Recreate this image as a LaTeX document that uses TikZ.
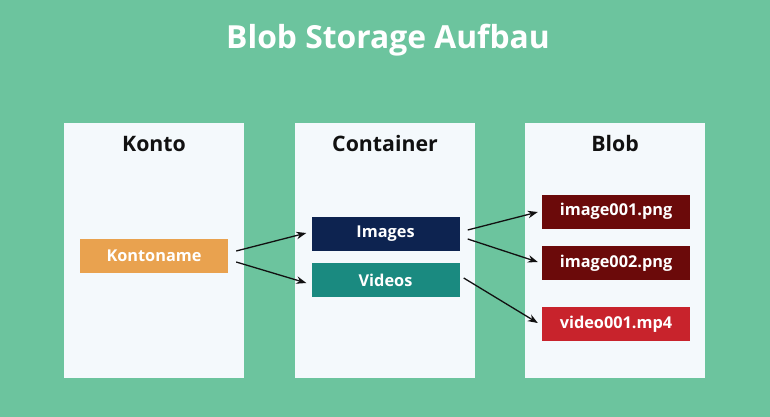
\documentclass[tikz,border=0pt]{standalone}
\usepackage{fontspec}
\setmainfont{Open Sans}
\usetikzlibrary{arrows.meta}
\definecolor{bggreen}{HTML}{6CC49E}
\definecolor{panelc}{HTML}{F4F9FC}
\definecolor{kontoc}{HTML}{E9A24F}
\definecolor{imgc}{HTML}{0D2350}
\definecolor{vidc}{HTML}{1A8A80}
\definecolor{filec}{HTML}{6B0A0A}
\definecolor{vfilec}{HTML}{C8232C}
\definecolor{inkc}{HTML}{111111}
\tikzset{
  panel/.style={fill=panelc, draw=none, minimum width=180pt, minimum height=255pt, inner sep=0pt},
  heading/.style={font=\bfseries\fontsize{21.3}{26}\selectfont, text=inkc, inner sep=0pt},
  itembox/.style={draw=none, minimum width=148pt, minimum height=34pt, inner sep=0pt, text=white, font=\bfseries\fontsize{16.3}{19}\selectfont},
  arr/.style={draw=inkc, line width=1.3pt, -{Stealth[length=10pt,width=7.5pt]}}
}
\begin{document}
\begin{tikzpicture}[x=1pt,y=-1pt]
\fill[bggreen] (0,0) rectangle (770,417);
\useasboundingbox (0,0) rectangle (770,417);
\node[font=\bfseries\fontsize{31.8}{38}\selectfont, text=white, inner sep=0pt] (title) at (388,40) {Blob Storage Aufbau};
\node[panel] (p1) at (154,250.5) {};
\node[panel] (p2) at (385,250.5) {};
\node[panel] (p3) at (615,250.5) {};
\node[heading] (h1) at (154,144) {Konto};
\node[heading] (h2) at (385,144) {Container};
\node[heading] (h3) at (615,144) {Blob};
\node[itembox, fill=kontoc] (konto) at (154,256) {Kontoname};
\node[itembox, fill=imgc] (img) at (385.5,234) {Images};
\node[itembox, fill=vidc] (vid) at (385.5,280) {Videos};
\node[itembox, fill=filec] (f1) at (616,211.5) {image001.png};
\node[itembox, fill=filec] (f2) at (616,263) {image002.png};
\node[itembox, fill=vfilec] (f3) at (616,324) {video001.mp4};
\draw[arr] ([shift={(8,-5)}]konto.east) -- ([shift={(-5,-1)}]img.west);
\draw[arr] ([shift={(8,6)}]konto.east) -- ([shift={(-5,3)}]vid.west);
\draw[arr] ([shift={(8,-4)}]img.east) -- ([shift={(-4,0.5)}]f1.west);
\draw[arr] ([shift={(8,5)}]img.east) -- ([shift={(-4,-1)}]f2.west);
\draw[arr] ([shift={(4,-2)}]vid.east) -- ([shift={(-4,-1)}]f3.west);
\end{tikzpicture}
\end{document}
